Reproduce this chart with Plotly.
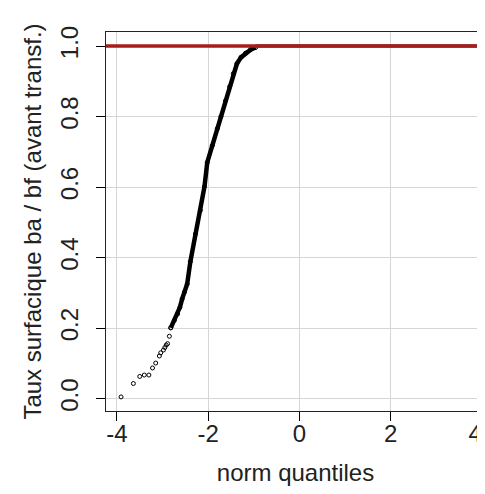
import plotly.graph_objects as go

# sparse lower tail of the QQ plot (norm quantiles vs observed values)
tail_x = [-3.91, -3.64, -3.50, -3.40, -3.30, -3.22, -3.15, -3.07, -3.04, -2.98,
          -2.95, -2.92, -2.89, -2.85, -2.82]
tail_y = [0.005, 0.043, 0.063, 0.067, 0.067, 0.087, 0.101, 0.121, 0.130, 0.138,
          0.145, 0.152, 0.156, 0.177, 0.201]

# dense body of the curve
body_x = [-2.82, -2.74, -2.67, -2.62, -2.57, -2.52, -2.46, -2.39, -2.28, -2.17,
          -2.08, -2.02, -1.91, -1.80, -1.72, -1.62, -1.53, -1.45, -1.37, -1.28,
          -1.18, -1.07, -0.96]
body_y = [0.201, 0.222, 0.240, 0.259, 0.283, 0.302, 0.325, 0.389, 0.467, 0.534,
          0.602, 0.670, 0.718, 0.766, 0.800, 0.845, 0.885, 0.922, 0.950, 0.968,
          0.980, 0.990, 0.996]

# values stuck at 1 (hidden under the reference line)
plateau_x = [-0.96, 0.0, 1.0, 2.0, 3.0, 4.0]
plateau_y = [1.0, 1.0, 1.0, 1.0, 1.0, 1.0]

ref_level = 1.0

x_ticks = [-4, -2, 0, 2, 4]
# trailing nbsp nudges the last label back inside the (cropped) picture
x_labels = ["-4", "-2", "0", "2", "4\u00a0\u00a0"]
y_ticks = [0.0, 0.2, 0.4, 0.6, 0.8, 1.0]
y_labels = ["0.0", "0.2", "0.4", "0.6", "0.8", "1.0"]

FONT = "Liberation Sans, Arial, sans-serif"

fig = go.Figure()
fig.add_trace(go.Scatter(
    x=plateau_x, y=plateau_y, mode="lines",
    line=dict(color="black", width=3), hoverinfo="skip"))
fig.add_trace(go.Scatter(
    x=body_x, y=body_y, mode="lines+markers",
    line=dict(color="black", width=4.5),
    marker=dict(symbol="circle-open", size=4, color="black", line=dict(width=1))))
fig.add_trace(go.Scatter(
    x=tail_x, y=tail_y, mode="markers",
    marker=dict(symbol="circle-open", size=4, color="black", line=dict(width=1))))

# red reference line at y = 1
fig.add_shape(type="line", xref="paper", x0=0, x1=1, yref="y",
              y0=ref_level, y1=ref_level,
              line=dict(color="#a81c1c", width=3.5), layer="above")

# page body has an 8px margin; keep the page short enough to avoid a scrollbar
fig.update_layout(
    width=477, height=478,
    margin=dict(l=98, r=0, t=24, b=75),
    paper_bgcolor="white", plot_bgcolor="white",
    showlegend=False,
    font=dict(family=FONT, size=24, color="#222222"),
    xaxis=dict(
        range=[-4.24, 4.07], tickvals=x_ticks, ticktext=x_labels,
        ticks="outside", ticklen=9, tickwidth=1, tickcolor="black",
        showline=True, linecolor="#222222", linewidth=1.3, mirror=True,
        showgrid=True, gridcolor="#d6d6d6", gridwidth=1, zeroline=False,
        ticklabelstandoff=-8, ticklabeloverflow="allow",
        title=dict(text="norm quantiles", font=dict(size=24), standoff=18),
        automargin=False,
    ),
    yaxis=dict(
        range=[-0.035, 1.04], tickvals=y_ticks, ticktext=y_labels,
        tickangle=-90,
        ticks="outside", ticklen=9, tickwidth=1, tickcolor="black",
        showline=True, linecolor="#222222", linewidth=1.3, mirror=False,
        ticklabelstandoff=8,
        showgrid=True, gridcolor="#d6d6d6", gridwidth=1, zeroline=False,
        title=dict(text="Taux surfacique ba / bf (avant transf.)",
                   font=dict(size=24), standoff=7),
        automargin=False,
    ),
)

fig.write_html("out.html")
